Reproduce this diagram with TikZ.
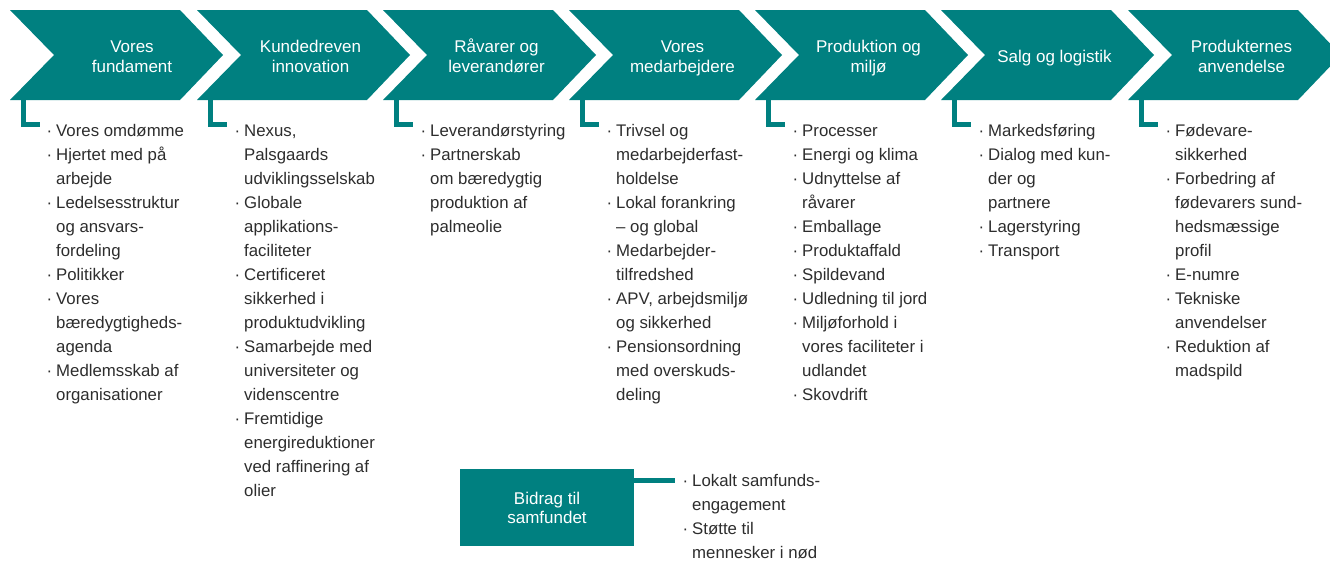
\documentclass[tikz,border=0pt]{standalone}
\usepackage{fontspec}
\setmainfont{Liberation Sans}
\definecolor{teal0}{RGB}{0,128,128}
\definecolor{txt}{RGB}{45,45,45}
\newcommand{\bu}{\llap{·\hspace{4pt}}}
\newcommand{\ctab}[1]{\begin{tabular}[t]{@{}c@{}}#1\end{tabular}}
\newcommand{\ltab}[1]{\begin{tabular}[t]{@{}l@{}}#1\end{tabular}}
\tikzset{
 ttl/.style={text=white, inner sep=0, anchor=base, font=\fontsize{17}{20}\selectfont},
 lst/.style={text=txt, inner sep=0, anchor=base west, font=\fontsize{16.8}{24}\selectfont},
 brk/.style={draw=teal0, line width=5pt},
 boxst/.style={fill=teal0, draw=none, inner sep=0, minimum width=174pt, minimum height=77pt},
}
\begin{document}
\begin{tikzpicture}[x=1pt,y=-1pt]
\useasboundingbox (0,0) rectangle (1330,560);
\begin{scope}
\clip (0,0) rectangle (1330,560);
\foreach \x [count=\i] in {10,197,383,569,755,941,1128}{
  \fill[teal0] (\x,10) -- ++(170,0) -- ++(43,45) -- ++(-43,45) -- ++(-170,0) -- ++(44,-45) -- cycle;
  \coordinate (b\i) at (\x+13.5,100);
  \coordinate (e\i) at (\x+30,124.5);
  \draw[brk] (b\i) |- (e\i);
}
\end{scope}
% titles
\node[ttl] (t1) at (132,52.7) {\ctab{Vores\\fundament}};
\node[ttl] (t2) at (310.5,52.7) {\ctab{Kundedreven\\innovation}};
\node[ttl] (t3) at (496.5,52.7) {\ctab{Råvarer og\\leverandører}};
\node[ttl] (t4) at (682.5,52.7) {\ctab{Vores\\medarbejdere}};
\node[ttl] (t5) at (868.5,52.7) {\ctab{Produktion og\\miljø}};
\node[ttl] (t6) at (1054.5,62) {Salg og logistik};
\node[ttl] (t7) at (1241.5,52.7) {\ctab{Produkternes\\anvendelse}};
% lists
\node[lst] (l1) at (56,136) {\ltab{\bu Vores omdømme\\\bu Hjertet med på\\arbejde\\\bu Ledelsesstruktur\\og ansvars-\\fordeling\\\bu Politikker\\\bu Vores\\bæredygtigheds-\\agenda\\\bu Medlemsskab af\\organisationer}};
\node[lst] (l2) at (244,136) {\ltab{\bu Nexus,\\Palsgaards\\udviklingsselskab\\\bu Globale\\applikations-\\faciliteter\\\bu Certificeret\\sikkerhed i\\produktudvikling\\\bu Samarbejde med\\universiteter og\\videnscentre\\\bu Fremtidige\\energireduktioner\\ved raffinering af\\olier}};
\node[lst] (l3) at (430,136) {\ltab{\bu Leverandørstyring\\\bu Partnerskab\\om bæredygtig\\produktion af\\palmeolie}};
\node[lst] (l4) at (616,136) {\ltab{\bu Trivsel og\\medarbejderfast-\\holdelse\\\bu Lokal forankring\\– og global\\\bu Medarbejder-\\tilfredshed\\\bu APV, arbejdsmiljø\\og sikkerhed\\\bu Pensionsordning\\med overskuds-\\deling}};
\node[lst] (l5) at (802,136) {\ltab{\bu Processer\\\bu Energi og klima\\\bu Udnyttelse af\\råvarer\\\bu Emballage\\\bu Produktaffald\\\bu Spildevand\\\bu Udledning til jord\\\bu Miljøforhold i\\vores faciliteter i\\udlandet\\\bu Skovdrift}};
\node[lst] (l6) at (988,136) {\ltab{\bu Markedsføring\\\bu Dialog med kun-\\der og\\partnere\\\bu Lagerstyring\\\bu Transport}};
\node[lst] (l7) at (1175,136) {\ltab{\bu Fødevare-\\sikkerhed\\\bu Forbedring af\\fødevarers sund-\\hedsmæssige\\profil\\\bu E-numre\\\bu Tekniske\\anvendelser\\\bu Reduktion af\\madspild}};
% bottom box
\node[boxst] (box) at (547,507.5) {};
\node[ttl, font=\fontsize{17}{19}\selectfont] (bt) at (547,504) {\ctab{Bidrag til\\samfundet}};
\coordinate (le) at (675,480);
\draw[brk] (box.east |- le) -- (le);
\node[lst] (lb) at (692,486) {\ltab{\bu Lokalt samfunds-\\engagement\\\bu Støtte til\\mennesker i nød}};
\end{tikzpicture}
\end{document}
